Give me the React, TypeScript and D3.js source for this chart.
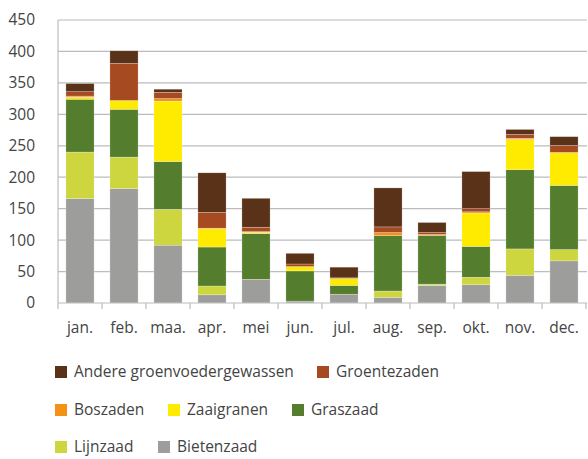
import * as d3 from "d3";
import React from "react";

const months = ["jan.", "feb.", "maa.", "apr.", "mei", "jun.", "jul.", "aug.", "sep.", "okt.", "nov.", "dec."];

// stacked bottom to top
const bietenzaad = [166, 182, 92, 13, 37, 3, 14, 9, 28, 29, 44, 67];
const lijnzaad = [74, 50, 57, 14, 0.5, 0, 0, 10, 2, 12, 42, 18];
const graszaad = [84, 76, 76, 62, 73, 48, 14, 88, 77, 49, 126, 102];
const zaaigranen = [3, 14, 96, 29, 2, 7, 11, 0, 0, 53, 48, 52];
const boszaden = [2, 0, 4, 1, 1, 0, 0, 5, 2, 2, 2, 0.5];
const groentezaden = [7, 59, 10, 25, 7, 4, 1, 9, 3, 5, 6, 11];
const andere = [13, 20, 5, 63, 46, 17, 17, 62, 16, 59, 8, 14];

const yTicks = [0, 50, 100, 150, 200, 250, 300, 350, 400, 450];

const series = [
  { key: "Bietenzaad", values: bietenzaad, color: "#9d9d9c" },
  { key: "Lijnzaad", values: lijnzaad, color: "#cdd53f" },
  { key: "Graszaad", values: graszaad, color: "#557d2e" },
  { key: "Zaaigranen", values: zaaigranen, color: "#ffeb00" },
  { key: "Boszaden", values: boszaden, color: "#f39217" },
  { key: "Groentezaden", values: groentezaden, color: "#a64a22" },
  { key: "Andere groenvoedergewassen", values: andere, color: "#5a3218" },
];

// legend rows: [name, square x]
const legendRows = [
  [["Andere groenvoedergewassen", 55], ["Groentezaden", 317]],
  [["Boszaden", 55], ["Zaaigranen", 168], ["Graszaad", 292]],
  [["Lijnzaad", 55], ["Bietenzaad", 158]],
] as [string, number][][];
const legendY = [372, 410, 447];

const App = () => {
  const width = 588;
  const height = 459;
  const margin = { left: 58, right: 2, top: 20, bottom: 156 };

  const x = d3.scaleBand().domain(months).range([margin.left, width - margin.right]).paddingInner(0.36).paddingOuter(0.18);
  const y = d3.scaleLinear().domain([0, 450]).range([height - margin.bottom, margin.top]);

  const table = months.map((m, i) => {
    const row: any = { month: m };
    series.forEach((s) => (row[s.key] = s.values[i]));
    return row;
  });
  const stacked = d3.stack().keys(series.map((s) => s.key))(table);
  const colorOf = (k: string) => series.find((s) => s.key === k)!.color;

  const step = x.step();
  const font = "'Open Sans', sans-serif";

  return (
    <svg width={width} height={height} style={{ position: "absolute", left: 0, top: 0 }}>
      {/* grid */}
      {yTicks.slice(1).map((t) => (
        <line key={t} x1={margin.left} x2={width - 1} y1={y(t)} y2={y(t)} stroke="#bcbcbc" strokeWidth={1.2} />
      ))}
      {/* bars */}
      {stacked.map((layer) => (
        <g key={layer.key} fill={colorOf(layer.key)}>
          {layer.map((d, i) => (
            <rect
              key={i}
              x={x(months[i])}
              width={x.bandwidth()}
              y={y(d[1])}
              height={Math.max(0, y(d[0]) - y(d[1]))}
              stroke="#ffffff"
              strokeOpacity={0.5}
              strokeWidth={0.5}
            />
          ))}
        </g>
      ))}
      {/* axes */}
      <line x1={margin.left} x2={margin.left} y1={y(450)} y2={y(0)} stroke="#bcbcbc" strokeWidth={1.2} />
      <line x1={margin.left} x2={width - 1} y1={y(0)} y2={y(0)} stroke="#bcbcbc" strokeWidth={1.2} />
      {d3.range(months.length + 1).map((i) => (
        <line key={i} x1={margin.left + i * step} x2={margin.left + i * step} y1={y(0)} y2={y(0) + 6} stroke="#bcbcbc" strokeWidth={1.2} />
      ))}
      {yTicks.map((t) => (
        <text key={t} x={35} y={y(t)} dy="0.35em" textAnchor="end" fontFamily={font} fontSize={15.5} fill="#444">
          {t}
        </text>
      ))}
      {months.map((m) => (
        <text key={m} x={x(m)! + x.bandwidth() / 2} y={333} textAnchor="middle" fontFamily={font} fontSize={15.5} fill="#444">
          {m}
        </text>
      ))}
      {/* legend */}
      {legendRows.map((row, r) =>
        row.map(([name, lx]) => (
          <g key={name}>
            <rect x={lx} y={legendY[r] - 6} width={12} height={12} fill={colorOf(name)} />
            <text x={lx + 19} y={legendY[r]} dy="0.35em" fontFamily={font} fontSize={15.5} fill="#444">
              {name}
            </text>
          </g>
        ))
      )}
    </svg>
  );
};

export default App;
